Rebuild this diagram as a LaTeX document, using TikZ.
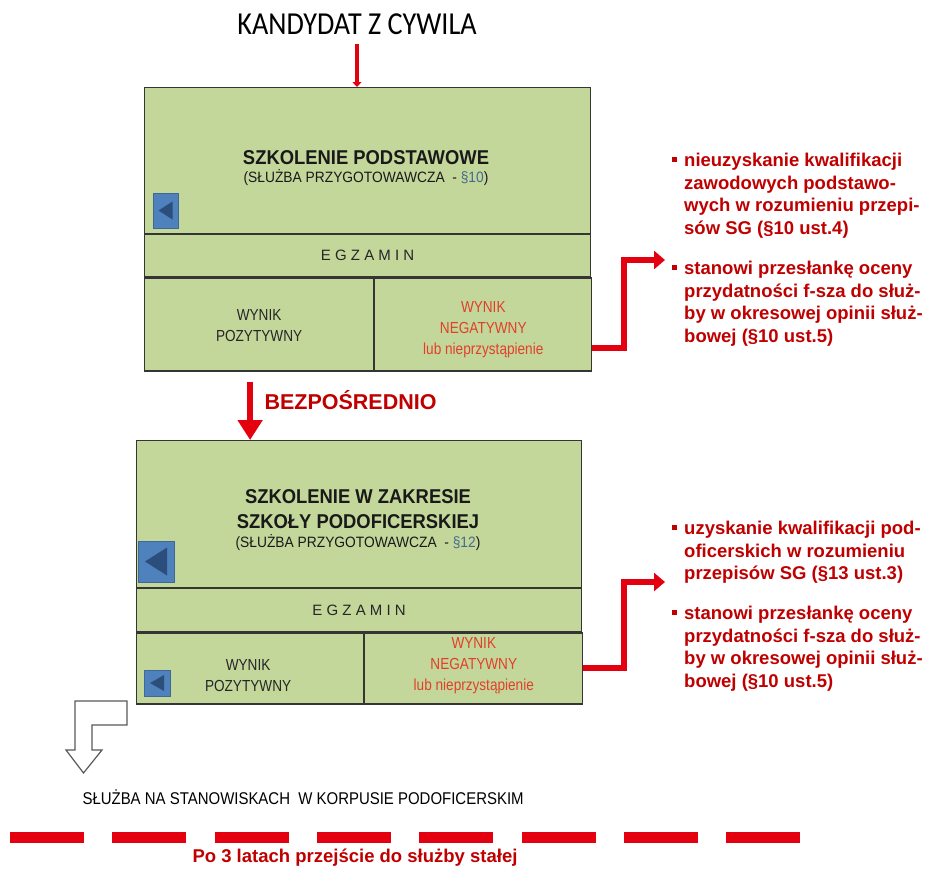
\documentclass[tikz,border=0pt]{standalone}
\usepackage{fontspec}
\setmainfont{Liberation Sans}
\newfontfamily\narrowfont[FakeStretch=0.85]{Liberation Sans}
\newfontfamily\midfont[FakeStretch=0.92]{Liberation Sans}
\newfontfamily\servfont[FakeStretch=0.88]{Liberation Sans}
\newfontfamily\titlefont[FakeStretch=0.88]{Carlito}
\newcommand{\subfont}{\mdseries\fontsize{15}{17}\selectfont}
\usetikzlibrary{arrows.meta,positioning,calc}
\definecolor{cPanel}{HTML}{C4D79B}
\definecolor{cEdge}{HTML}{353535}
\definecolor{cRed}{HTML}{E3000F}
\definecolor{cDark}{HTML}{C00000}
\definecolor{cNeg}{HTML}{E0402A}
\definecolor{cBtn}{HTML}{4F81BD}
\definecolor{cBtnTri}{HTML}{2B4F7A}
\definecolor{cPara}{HTML}{46698F}

% play button triangle inside a blue square
\newcommand{\playtri}[3]{\fill[cBtnTri] ($(#1.center)+(#2,-#3)$) -- ($(#1.center)+(#2,#3)$) -- ($(#1.center)+(-#2,0)$) -- cycle;}

\begin{document}
\begin{tikzpicture}[
    x=1pt, y=-1pt,
    panel/.style={rectangle, draw=cEdge, line width=1.2pt, fill=cPanel, anchor=north west, inner sep=0pt},
    head/.style={font=\midfont\bfseries\fontsize{20}{25}\selectfont, align=center, text=black!90},
    cell/.style={font=\narrowfont\fontsize{16}{21}\selectfont, align=center, text=black!85},
    negcell/.style={cell, text=cNeg},
    exam/.style={font=\fontsize{15}{17}\selectfont, text=black!85},
    btn/.style={rectangle, fill=cBtn, draw=cBtn!80!black, line width=0.4pt, inner sep=0pt},
    note/.style={font=\bfseries\fontsize{18.5}{22.5}\selectfont, text=cDark, align=left, anchor=north west, inner sep=0pt},
    redline/.style={draw=cRed, line width=6pt, -{Triangle[length=11pt,width=18pt]}},
    downarr/.style={draw=cRed, line width=6pt, -{Triangle[length=20pt,width=24pt]}},
]
\useasboundingbox (0,0) rectangle (927,871);

% title
\node[font=\titlefont\fontsize{32}{34}\selectfont] (cand) at (357,24) {KANDYDAT Z CYWILA};

% Box 1
\node[panel, minimum width=446pt, minimum height=146pt] (top1) at (144,87) {};
\node[panel, minimum width=446pt, minimum height=42pt, below=0pt of top1, exam] (egz1) {E G Z A M I N};
\node[panel, minimum width=229pt, minimum height=93pt] (pos1) at (egz1.south west) {};
\node[panel, minimum width=217pt, minimum height=93pt] (neg1) at (pos1.north east) {};
\node[head] (h1) at (366,168) {SZKOLENIE PODSTAWOWE\\[-7pt]{\subfont(SŁUŻBA PRZYGOTOWAWCZA~~- {\color{cPara}§10})}};
\node[btn, minimum width=25pt, minimum height=35pt] (bt1) at (165.5,210.5) {};
\playtri{bt1}{7}{9}
\node[cell] (pt1) at ($(pos1.center)+(0,1)$) {WYNIK\\POZYTYWNY};
\node[negcell] (nt1) at ($(neg1.center)+(0,5)$) {WYNIK\\NEGATYWNY\\lub nieprzystąpienie};

\draw[draw=cRed, line width=4pt, shorten <=6pt, -{Triangle[length=5pt,width=9pt]}] (cand.south) -- (cand.south |- top1.north);

% notes 1
\coordinate (tip1) at (665,260);
\node[note] (n1a) at (684,153) {\llap{\raisebox{5pt}{\rule{5pt}{5pt}}\hspace{7pt}}nieuzyskanie kwalifikacji\\zawodowych podstawo-\\wych w rozumieniu przepi-\\sów SG (§10 ust.4)};
\node[note] (n1b) at (684,261) {\llap{\raisebox{5pt}{\rule{5pt}{5pt}}\hspace{7pt}}stanowi przesłankę oceny\\przydatności f-sza do służ-\\by w okresowej opinii służ-\\bowej (§10 ust.5)};
\draw[redline] ($(neg1.south east)+(0,-24)$) -- ++(32,0) |- (tip1);

% Box 2
\node[panel, minimum width=445pt, minimum height=147pt] (top2) at (136,440) {};
\node[panel, minimum width=445pt, minimum height=43pt, below=0pt of top2, exam] (egz2) {E G Z A M I N};
\node[panel, minimum width=227pt, minimum height=71pt] (pos2) at (egz2.south west) {};
\node[panel, minimum width=218pt, minimum height=71pt] (neg2) at (pos2.north east) {};
\node[head] (h2) at (358,520) {SZKOLENIE W ZAKRESIE\\SZKOŁY PODOFICERSKIEJ\\[-6pt]{\subfont(SŁUŻBA PRZYGOTOWAWCZA~~- {\color{cPara}§12})}};
\node[btn, minimum width=36pt, minimum height=41pt] (bt2) at (156,561.5) {};
\playtri{bt2}{11}{14}
\node[btn, minimum width=26pt, minimum height=26pt] (bt3) at (157,683) {};
\playtri{bt3}{7}{8}
\node[cell] (pt2) at ($(pos2.center)+(-2,7)$) {WYNIK\\POZYTYWNY};
\node[negcell] (nt2) at ($(neg2.center)+(0,-3)$) {WYNIK\\NEGATYWNY\\lub nieprzystąpienie};

\coordinate (bz) at ($(pos1.south)+(-9,10)$);
\draw[downarr] (bz) -- (bz |- top2.north);
\node[font=\bfseries\fontsize{21.5}{24}\selectfont, text=cDark, anchor=west] (direct) at (261,400) {BEZPOŚREDNIO};

% notes 2
\coordinate (tip2) at (665,582);
\node[note] (n2a) at (684,521) {\llap{\raisebox{5pt}{\rule{5pt}{5pt}}\hspace{7pt}}uzyskanie kwalifikacji pod-\\oficerskich w rozumieniu\\przepisów SG (§13 ust.3)};
\node[note] (n2b) at (684,606) {\llap{\raisebox{5pt}{\rule{5pt}{5pt}}\hspace{7pt}}stanowi przesłankę oceny\\przydatności f-sza do służ-\\by w okresowej opinii służ-\\bowej (§10 ust.5)};
\draw[redline] ($(neg2.south east)+(0,-37)$) -- ++(41,0) |- (tip2);

% hollow bent arrow
\draw[draw=black!65, line width=1.2pt, fill=white, line join=miter]
  (75,701) -- (127,701) -- (127,725) -- (92,725) -- (92,750) -- (102,750)
  -- (83.5,773) -- (66,750) -- (75,750) -- cycle;

% bottom
\node[font=\servfont\fontsize{17}{20}\selectfont, anchor=west] (serv) at (79,797) {SŁUŻBA NA STANOWISKACH~~W KORPUSIE PODOFICERSKIM};
\foreach \i in {0,...,7}
  \fill[cRed] (10+102.3*\i,832) rectangle ++(74,11);
\node[font=\bfseries\fontsize{18.5}{20}\selectfont, text=cDark] (perm) at (355,858) {Po 3 latach przejście do służby stałej};
\end{tikzpicture}
\end{document}
